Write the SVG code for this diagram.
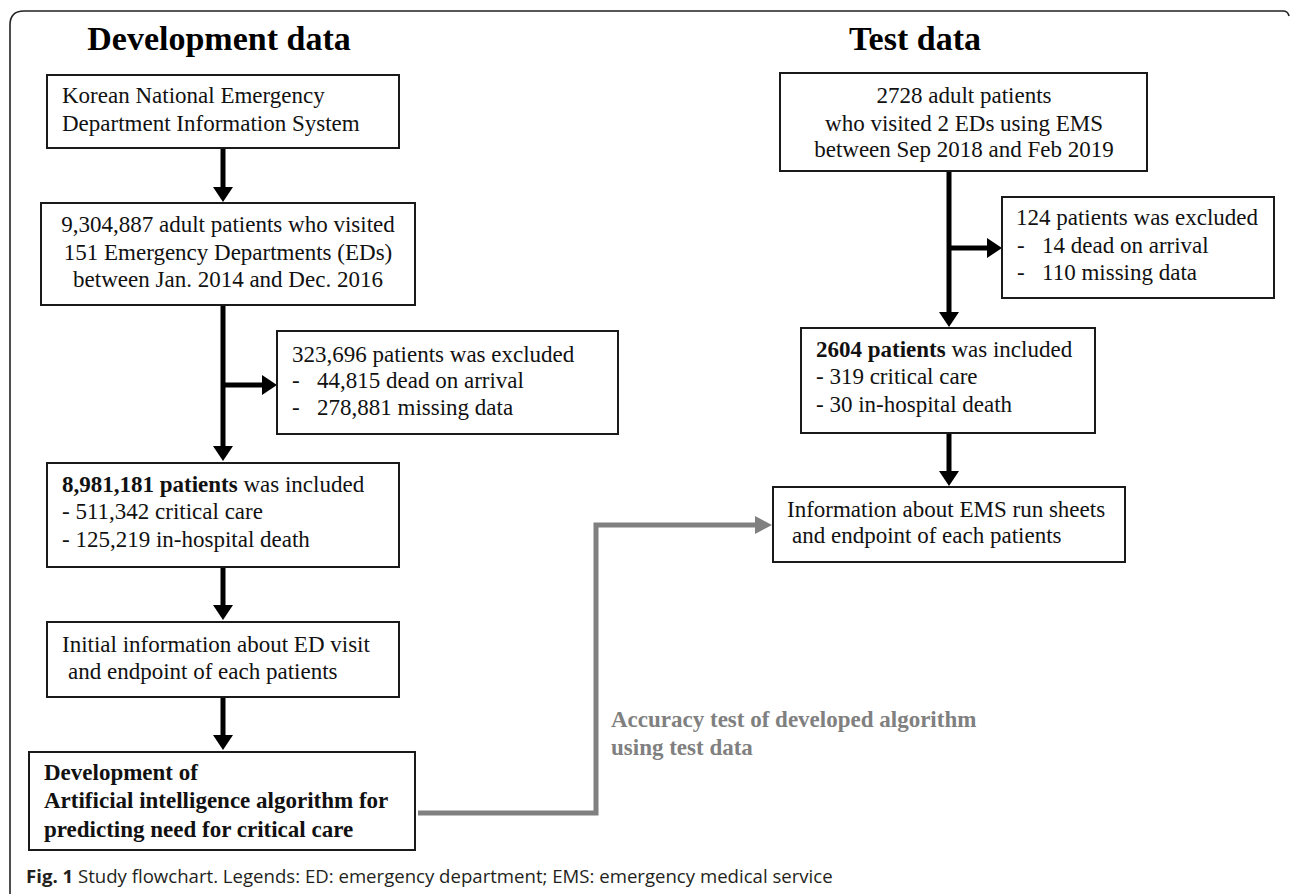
<svg xmlns="http://www.w3.org/2000/svg" width="1290" height="894" viewBox="0 0 1290 894">
<style>
.box{fill:#fff;stroke:#1a1a1a;stroke-width:2}
.t{font-family:"Liberation Serif","Times New Roman",serif;font-size:23px;fill:#111}
.b{font-weight:bold}
.title{font-family:"Liberation Serif","Times New Roman",serif;font-size:34px;font-weight:bold;fill:#000}
.c{fill:none;stroke:#000;stroke-width:5}
.g{fill:none;stroke:#808080;stroke-width:5}
.gt{font-family:"Liberation Serif","Times New Roman",serif;font-size:23px;font-weight:bold;fill:#808080}
.cap{font-family:"Open Sans","Noto Sans",sans-serif;font-size:18.6px;fill:#231f20}
</style>
<defs>
<marker id="ah" viewBox="0 0 15 20" markerWidth="15" markerHeight="20" refX="0" refY="10" orient="auto" markerUnits="userSpaceOnUse"><polygon points="0,0 15,10 0,20" fill="#000"/></marker>
<marker id="ahg" viewBox="0 0 17 18" markerWidth="17" markerHeight="18" refX="0" refY="9" orient="auto" markerUnits="userSpaceOnUse"><polygon points="0,0 17,9 0,18" fill="#808080"/></marker>
</defs>
<rect width="1290" height="894" fill="#fff"/>
<path d="M10,894 V25 Q10,11 24,11 H1283 Q1288,11 1289,16" fill="none" stroke="#222" stroke-width="1.6"/>
<text class="title" x="219" y="50" text-anchor="middle">Development data</text>
<text class="title" x="915" y="50" text-anchor="middle">Test data</text>

<g id="connectors">
<path class="c" d="M223,148 V187" marker-end="url(#ah)"/>
<path class="c" d="M223,305 V446" marker-end="url(#ah)"/>
<path class="c" d="M223,385 H262" marker-end="url(#ah)"/>
<path class="c" d="M223,567 V605" marker-end="url(#ah)"/>
<path class="c" d="M223,697 V735" marker-end="url(#ah)"/>
<path class="c" d="M949,171 V312" marker-end="url(#ah)"/>
<path class="c" d="M949,248 H987" marker-end="url(#ah)"/>
<path class="c" d="M949,433 V471" marker-end="url(#ah)"/>
<path class="g" d="M418,813 H596 V525 H755" marker-end="url(#ahg)"/>
<text class="gt" x="611" y="727">Accuracy test of developed algorithm</text>
<text class="gt" x="611" y="755">using test data</text>
</g>

<g id="n-kneds">
<rect class="box" x="47" y="75" width="352" height="73"/>
<text class="t" x="62" y="103">Korean National Emergency</text>
<text class="t" x="62" y="131">Department Information System</text>
</g>
<g id="n-adult">
<rect class="box" x="41" y="203" width="374" height="102"/>
<text class="t" x="228" y="232" text-anchor="middle">9,304,887 adult patients who visited</text>
<text class="t" x="228" y="260" text-anchor="middle">151 Emergency Departments (EDs)</text>
<text class="t" x="228" y="287" text-anchor="middle">between Jan. 2014 and Dec. 2016</text>
</g>
<g id="n-excl1">
<rect class="box" x="277" y="331" width="341" height="103"/>
<text class="t" x="292" y="362">323,696 patients was excluded</text>
<text class="t" y="388"><tspan x="292">-</tspan><tspan x="317">44,815 dead on arrival</tspan></text>
<text class="t" y="415"><tspan x="292">-</tspan><tspan x="317">278,881 missing data</tspan></text>
</g>
<g id="n-incl1">
<rect class="box" x="47" y="463" width="352" height="104"/>
<text class="t" x="62" y="492"><tspan class="b">8,981,181 patients</tspan> was included</text>
<text class="t" x="62" y="519">- 511,342 critical care</text>
<text class="t" x="62" y="547">- 125,219 in-hospital death</text>
</g>
<g id="n-initial">
<rect class="box" x="47" y="622" width="352" height="75"/>
<text class="t" x="62" y="652">Initial information about ED visit</text>
<text class="t" x="68" y="679">and endpoint of each patients</text>
</g>
<g id="n-dev">
<rect class="box" x="29" y="752" width="386" height="98"/>
<text class="t b" x="44" y="780">Development of</text>
<text class="t b" x="44" y="808">Artificial intelligence algorithm for</text>
<text class="t b" x="44" y="837">predicting need for critical care</text>
</g>

<g id="n-2728">
<rect class="box" x="780" y="73" width="367" height="98"/>
<text class="t" x="964" y="103" text-anchor="middle">2728 adult patients</text>
<text class="t" x="964" y="131" text-anchor="middle">who visited 2 EDs using EMS</text>
<text class="t" x="964" y="157" text-anchor="middle">between Sep 2018 and Feb 2019</text>
</g>
<g id="n-excl2">
<rect class="box" x="1002" y="197" width="272" height="101"/>
<text class="t" x="1016" y="225">124 patients was excluded</text>
<text class="t" y="253"><tspan x="1017">-</tspan><tspan x="1042">14 dead on arrival</tspan></text>
<text class="t" y="280"><tspan x="1017">-</tspan><tspan x="1042">110 missing data</tspan></text>
</g>
<g id="n-incl2">
<rect class="box" x="801" y="328" width="294" height="105"/>
<text class="t" x="816" y="357"><tspan class="b">2604 patients</tspan> was included</text>
<text class="t" x="816" y="384">- 319 critical care</text>
<text class="t" x="816" y="412">- 30 in-hospital death</text>
</g>
<g id="n-info">
<rect class="box" x="773" y="487" width="352" height="75"/>
<text class="t" x="787" y="517">Information about EMS run sheets</text>
<text class="t" x="792" y="543">and endpoint of each patients</text>
</g>

<text class="cap" x="26" y="883"><tspan font-weight="bold">Fig. 1</tspan> Study flowchart. Legends: ED: emergency department; EMS: emergency medical service</text>
</svg>
